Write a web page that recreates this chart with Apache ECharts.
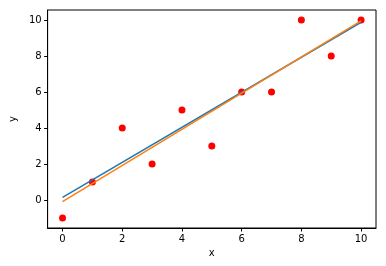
<!DOCTYPE html>
<html><head><meta charset="utf-8">
<script src="https://cdn.jsdelivr.net/npm/echarts@6/dist/echarts.min.js"></script>
<style>html,body{margin:0;padding:0;background:#fff}#c{width:386px;height:266px}</style>
</head><body><div id="c"></div>
<script>
const xs = [0, 1, 2, 3, 4, 5, 6, 7, 8, 9, 10];
const ys = [-1, 1, 4, 2, 5, 3, 6, 6, 10, 8, 10];
const lineX = [0, 10];
const blueY = [0.15, 9.87];
const orangeY = [-0.09, 9.95];
const xTicks = [0, 2, 4, 6, 8, 10];
const yTicks = [0, 2, 4, 6, 8, 10];

const font = 'DejaVu Sans';
const chart = echarts.init(document.getElementById('c'), null, {renderer: 'canvas'});
const axisCommon = {
  axisLine: {show: true, onZero: false, lineStyle: {color: '#000', width: 1}},
  axisTick: {show: true, length: 3.5, inside: false, lineStyle: {color: '#000', width: 1}},
  axisLabel: {color: '#000', fontFamily: font, fontSize: 10, margin: 6},
  splitLine: {show: false},
  nameTextStyle: {color: '#000', fontFamily: font, fontSize: 10},
  nameLocation: 'middle'
};
chart.setOption({
  animation: false,
  grid: {left: 41, top: 10, right: 10, bottom: 38, show: true, borderColor: '#000', borderWidth: 1, backgroundColor: 'transparent'},
  xAxis: Object.assign({}, axisCommon, {
    type: 'value', min: -0.5, max: 10.5, name: 'x', nameGap: 19,
    axisTick: Object.assign({}, axisCommon.axisTick, {customValues: xTicks}),
    axisLabel: Object.assign({}, axisCommon.axisLabel, {customValues: xTicks})
  }),
  yAxis: Object.assign({}, axisCommon, {
    type: 'value', min: -1.55, max: 10.55, name: 'y', nameGap: 26,
    axisTick: Object.assign({}, axisCommon.axisTick, {customValues: yTicks}),
    axisLabel: Object.assign({}, axisCommon.axisLabel, {customValues: yTicks})
  }),
  series: [
    {type: 'line', data: lineX.map((x, i) => [x, blueY[i]]), showSymbol: false, symbol: 'none',
     lineStyle: {color: '#1f77b4', width: 1.5}, z: 2},
    {type: 'line', data: lineX.map((x, i) => [x, orangeY[i]]), showSymbol: false, symbol: 'none',
     lineStyle: {color: '#ff7f0e', width: 1.5}, z: 3},
    {type: 'scatter', data: xs.map((x, i) => [x, ys[i]]), symbolSize: 7,
     itemStyle: {color: '#ff0000', opacity: 1}, z: 1}
  ]
});
</script></body></html>
